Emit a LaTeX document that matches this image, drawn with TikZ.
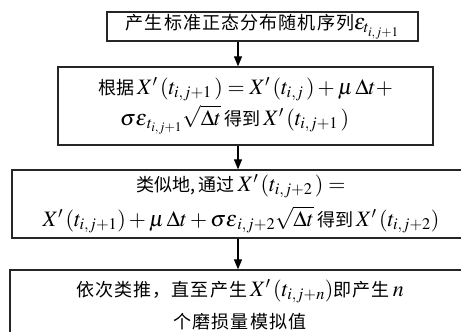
\documentclass[tikz,border=0pt]{standalone}
\usepackage{mathptmx}
\usepackage{fontspec}
\setmainfont{Noto Sans CJK SC}[Scale=0.82]
\newfontfamily\widecjk{Noto Sans CJK SC}[Scale=0.82,LetterSpace=6]
\usetikzlibrary{arrows.meta,positioning}

\begin{document}
\begin{tikzpicture}[x=1pt,y=-1pt,
  stepbox/.style={draw=black!85, line width=1.3pt, fill=white, inner sep=0pt, align=center, font=\fontsize{22}{31}\selectfont},
  flowarrow/.style={line width=1.1pt, -{Triangle[length=10pt,width=8pt]}}]
  \useasboundingbox (0,0) rectangle (461,332);
  \clip (0,0) rectangle (461,332);
  \fill[white] (0,0) rectangle (461,332);
  \coordinate (axis) at (238,0);
  % Step 1: random sequence
  \node[stepbox, minimum width=311pt, minimum height=29pt] (gen) at (262.5,26.5)
    {{\widecjk 产生标准正态分布随机序列}$\varepsilon_{t_{i,j+1}}$};
  % Step 2: first value
  \node[stepbox, align=left, minimum width=375pt, minimum height=78pt] (first) at (245.5,106)
    {根据\,$X'\,(t_{i,j+1}\,) = X'\,(t_{i,j}\,) + \mu\,\Delta t +$\\
     \rule{22pt}{0pt}$\sigma\varepsilon_{\,t_{i,j+1}}\sqrt{\Delta t}$\,得到\,$X'\,(t_{i,j+1}\,)$};
  % Step 3: next value
  \node[stepbox, font=\fontsize{22}{35}\selectfont, minimum width=458pt, minimum height=68pt] (next) at (241,204)
    {类似地,\,通过\,$X'\,(t_{i,j+2}\,) =$\\
     $X'\,(t_{i,j+1}) + \mu\,\Delta t + \sigma\varepsilon_{\,i,j+2}\sqrt{\Delta t}$\,得到\,$X'\,(t_{i,j+2})$};
  % Step 4: all values
  \node[stepbox, font=\fontsize{22}{32}\selectfont, minimum width=460pt, minimum height=70pt] (last) at (240,305)
    {{\widecjk 依次类推，直至产生}\,$X'\,(t_{i,j+n})${\widecjk 即产生}\,$n$\\
     {\widecjk 个磨损量模拟值}};
  % arrows
  \draw[flowarrow] (gen.south -| axis) -- (first.north -| axis);
  \draw[flowarrow] (first.south -| axis) -- (next.north -| axis);
  \draw[flowarrow] (next.south -| axis) -- (last.north -| axis);
\end{tikzpicture}
\end{document}
